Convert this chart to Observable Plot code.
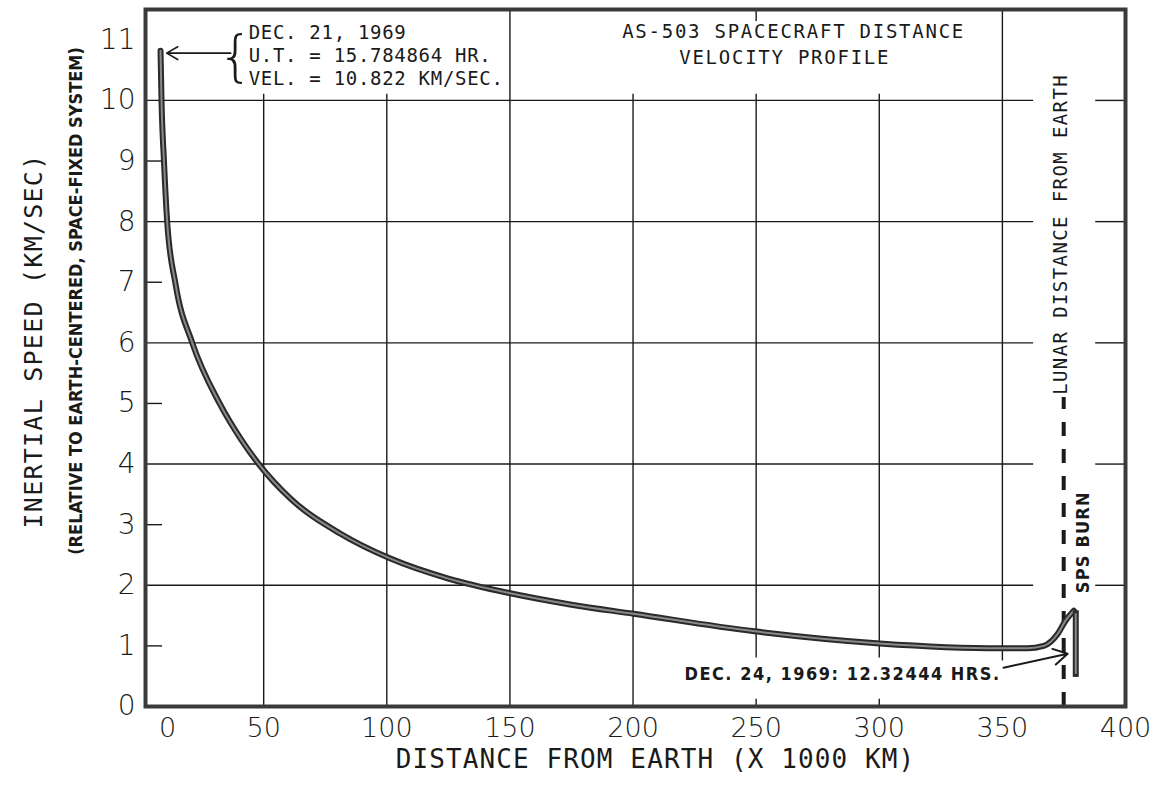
<!DOCTYPE html>
<html>
<head>
<meta charset="utf-8">
<script src="https://cdn.jsdelivr.net/npm/d3@7"></script>
<script src="https://cdn.jsdelivr.net/npm/@observablehq/plot@0.6"></script>
<style>
  html, body { margin: 0; padding: 0; background: #fff; }
  #chart svg { display: block; }
</style>
</head>
<body>
<div id="chart"></div>
<script>
// ---- data ----
// Distance from Earth (x 1000 km) and inertial speed (km/s)
const distance = [8.1, 8.5, 9.5, 10.8, 14.2, 21.0, 32.1, 40.6, 48.0, 60.9, 81.2, 101.5, 125, 151.1, 175, 200.2, 249.4, 300.2, 349.7, 360, 366.8, 372.5, 375.7, 379.0];
const speed    = [10.82, 10.0, 9.0, 8.0, 6.97, 6.0, 5.0, 4.42, 4.0, 3.43, 2.85, 2.44, 2.11, 1.86, 1.68, 1.53, 1.24, 1.04, 0.96, 0.96, 1.0, 1.2, 1.42, 1.58];

// SPS burn (velocity drop at lunar distance)
const spsDistance = [379.8];
const spsFrom = [1.58];
const spsTo = [0.48];

// Lunar distance from Earth
const lunarDistance = [374.9];

// Axes
const xTicks = [0, 50, 100, 150, 200, 250, 300, 350, 400];
const yTicks = [0, 1, 2, 3, 4, 5, 6, 7, 8, 9, 10, 11];
const yGrid = [2, 4, 6, 8, 10];
const yMinor = [1, 3, 5, 7, 9];
const xGridShort = [50, 100, 200];
const xGridGap = [250, 300];
const xGridTall = [150];
const xGridLunar = [350];

const launchNote = ["DEC. 21, 1969", "U.T. = 15.784864 HR.", "VEL. = 10.822 KM/SEC."];
const titleLines = ["AS-503 SPACECRAFT DISTANCE", "VELOCITY PROFILE"];
const spsNote = "DEC. 24, 1969: 12.32444 HRS.";

const curve = distance.map((d, i) => ({d, v: speed[i]}));

const mono = "'DejaVu Sans Mono', monospace";
const narrow = "'Liberation Sans Narrow', 'DejaVu Sans Condensed', sans-serif";
const ink = "#1a1a1a";

const plot = Plot.plot({
  width: 1164,
  height: 788,
  marginLeft: 145,
  marginRight: 39,
  marginTop: 9,
  marginBottom: 82,
  x: {domain: [2, 400], axis: null},
  y: {domain: [0, 11.5], axis: null},
  style: {background: "#fff", color: ink},
  marks: [
    // horizontal gridlines (gap at lunar distance label)
    Plot.ruleY(yGrid, {x1: 2, x2: 362.7, stroke: ink, strokeWidth: 1.4}),
    Plot.ruleY(yGrid, {x1: 387.9, x2: 400, stroke: ink, strokeWidth: 1.4}),
    // minor ticks on left
    Plot.ruleY(yMinor, {x1: 2, x2: 8.9, stroke: ink, strokeWidth: 1.4}),
    // vertical gridlines
    Plot.ruleX(xGridShort, {y1: 0, y2: 10.1, stroke: ink, strokeWidth: 1.4}),
    Plot.ruleX(xGridTall, {y1: 0, y2: 11.5, stroke: ink, strokeWidth: 1.4}),
    Plot.ruleX(xGridGap, {y1: 0.8, y2: 10.1, stroke: ink, strokeWidth: 1.4}),
    Plot.ruleX(xGridGap, {y1: 0, y2: 0.12, stroke: ink, strokeWidth: 1.4}),
    Plot.ruleX(xGridLunar, {y1: 0.75, y2: 11.5, stroke: ink, strokeWidth: 1.4}),
    Plot.ruleX([250], {y1: 11.3, y2: 11.5, stroke: ink, strokeWidth: 1.4}),
    // lunar distance dashed line
    Plot.ruleX(lunarDistance, {y1: 0, y2: 5.1, stroke: ink, strokeWidth: 4, strokeDasharray: "14,13"}),
    Plot.text(["LUNAR DISTANCE FROM EARTH"], {x: 373.7, y: 7.79, rotate: -90, fontSize: 19, fontFamily: mono, fill: ink, ariaDescription: "lunar-label"}),
    // velocity curve
    Plot.line(curve, {x: "d", y: "v", curve: "monotone-x", stroke: "#2a2a2a", strokeWidth: 6}),
    Plot.line(curve, {x: "d", y: "v", curve: "monotone-x", stroke: "#8a8a8a", strokeWidth: 2}),
    // SPS burn
    Plot.ruleX(spsDistance, {y1: spsTo[0], y2: spsFrom[0], stroke: "#2a2a2a", strokeWidth: 6}),
    Plot.ruleX(spsDistance, {y1: spsTo[0] + 0.05, y2: spsFrom[0] - 0.05, stroke: "#8a8a8a", strokeWidth: 2}),
    Plot.text(["SPS BURN"], {x: 383.0, y: 2.71, rotate: -90, fontSize: 18, fontWeight: "bold", fontFamily: narrow, fill: ink, ariaDescription: "sps-label"}),
    // SPS annotation
    Plot.text([spsNote], {x: 349.3, y: 0.53, textAnchor: "end", fontSize: 18, fontWeight: "bold", fontFamily: narrow, fill: ink, ariaDescription: "sps-note"}),
    Plot.arrow([{x1: 350.5, y1: 0.64, x2: 376.5, y2: 0.87}], {x1: "x1", y1: "y1", x2: "x2", y2: "y2", stroke: ink, strokeWidth: 2, headLength: 12, bend: 0}),
    // launch annotation
    Plot.arrow([{x1: 36.6, y1: 10.78, x2: 10.6, y2: 10.78}], {x1: "x1", y1: "y1", x2: "x2", y2: "y2", stroke: ink, strokeWidth: 1.6, headLength: 12, bend: 0}),
    Plot.text(["{"], {x: 38.6, y: 10.72, fontSize: 56, fontWeight: 200, fontFamily: "'DejaVu Sans', sans-serif", fill: ink}),
    Plot.text(launchNote, {x: 43.9, y: (d, i) => [11.12, 10.73, 10.35][i], textAnchor: "start", fontSize: 19, fontFamily: mono, fill: ink, ariaDescription: "launch-note"}),
    // title
    Plot.text(titleLines, {x: (d, i) => [265.2, 261.6][i], y: (d, i) => [11.13, 10.7][i], fontSize: 19, fontFamily: mono, fill: ink, ariaDescription: "title"}),
    // axis tick labels
    Plot.text(xTicks.filter(d => d !== 0), {x: d => d, y: 0, dy: 22, fontSize: 27, fontFamily: "'DejaVu Sans', sans-serif", fontWeight: 300, fill: ink}),
    Plot.text(xTicks.filter(d => d === 0), {x: 2, y: 0, dy: 22, dx: 22, fontSize: 27, fontFamily: "'DejaVu Sans', sans-serif", fontWeight: 300, fill: ink}),
    Plot.text(yTicks, {x: 2, y: d => d, dx: -10, textAnchor: "end", fontSize: 28, fontFamily: "'DejaVu Sans', sans-serif", fontWeight: 300, fill: ink}),
    // axis titles
    Plot.text(["DISTANCE FROM EARTH (X 1000 KM)"], {frameAnchor: "bottom", dx: 20, dy: 61, fontSize: 26, fontFamily: mono, fill: ink, ariaDescription: "x-title"}),
    Plot.text(["INERTIAL SPEED (KM/SEC)"], {frameAnchor: "left", textAnchor: "middle", rotate: -90, dx: -112, dy: -17, fontSize: 25, fontFamily: mono, fill: ink, ariaDescription: "y-title"}),
    Plot.text(["(RELATIVE TO EARTH-CENTERED, SPACE-FIXED SYSTEM)"], {frameAnchor: "left", textAnchor: "middle", rotate: -90, dx: -69, dy: -57, fontSize: 18, fontWeight: "bold", fontFamily: narrow, fill: ink, ariaDescription: "y-subtitle"}),
    // frame
    Plot.frame({stroke: "#3a3a3a", strokeWidth: 4})
  ]
});

document.getElementById("chart").appendChild(plot);

const spacing = {
  "lunar-label": "1.4px",
  "sps-label": "1.2px",
  "sps-note": "1.5px",
  "launch-note": "0.7px",
  "title": "1.75px",
  "x-title": "1.1px",
  "y-title": "1.25px",
  "y-subtitle": "0px"
};
for (const [k, v] of Object.entries(spacing)) {
  d3.select(plot).selectAll(`[aria-description="${k}"] text`).style("letter-spacing", v);
}
</script>
</body>
</html>
